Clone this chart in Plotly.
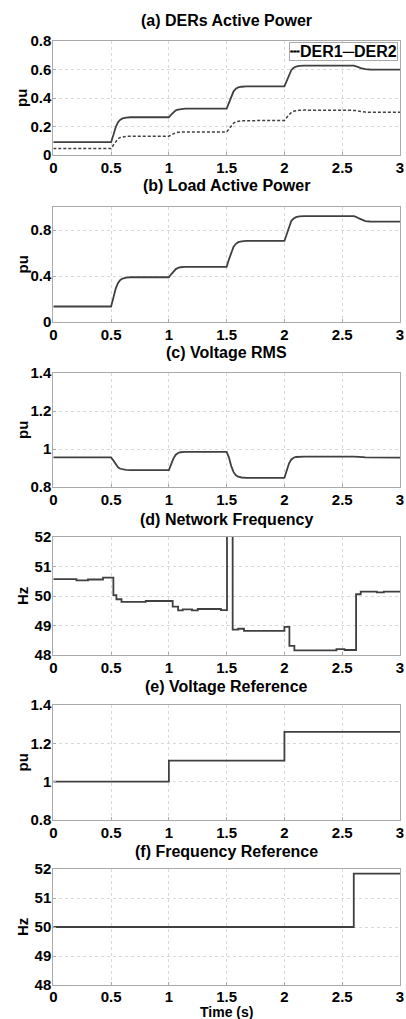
import plotly.graph_objects as go

# ---------------- data ----------------
t_smooth = [0, 0.5, 0.52, 0.54, 0.56, 0.58, 0.6, 0.63, 0.67,
            1.0, 1.02, 1.04, 1.06, 1.08, 1.1, 1.14,
            1.5, 1.52, 1.54, 1.56, 1.58, 1.6, 1.63, 1.67,
            2.0, 2.02, 2.04, 2.06, 2.08, 2.1, 2.13, 2.17,
            2.6, 2.62, 2.64, 2.66, 2.68, 2.7, 2.74, 3.0]

der1 = [0.045, 0.045, 0.07, 0.097, 0.114, 0.123, 0.128, 0.131, 0.132,
        0.132, 0.141, 0.150, 0.156, 0.159, 0.161, 0.162,
        0.162, 0.185, 0.208, 0.224, 0.233, 0.237, 0.240, 0.241,
        0.242, 0.263, 0.285, 0.299, 0.307, 0.311, 0.314, 0.315,
        0.315, 0.313, 0.309, 0.305, 0.302, 0.301, 0.300, 0.300]

der2 = [0.09, 0.09, 0.14, 0.195, 0.23, 0.248, 0.257, 0.263, 0.265,
        0.265, 0.283, 0.300, 0.313, 0.319, 0.322, 0.325,
        0.325, 0.370, 0.415, 0.447, 0.465, 0.474, 0.479, 0.481,
        0.482, 0.525, 0.568, 0.597, 0.612, 0.620, 0.625, 0.627,
        0.627, 0.624, 0.617, 0.610, 0.605, 0.602, 0.600, 0.599]

load = [0.135, 0.135, 0.21, 0.29, 0.34, 0.365, 0.378, 0.386, 0.389,
        0.389, 0.415, 0.44, 0.46, 0.47, 0.476, 0.48,
        0.48, 0.545, 0.61, 0.655, 0.68, 0.694, 0.702, 0.705,
        0.705, 0.77, 0.835, 0.88, 0.90, 0.912, 0.918, 0.92,
        0.92, 0.915, 0.903, 0.892, 0.883, 0.877, 0.874, 0.872]

vrms = [0.956, 0.956, 0.94, 0.918, 0.904, 0.896, 0.892, 0.890, 0.889,
        0.889, 0.92, 0.951, 0.97, 0.979, 0.983, 0.985,
        0.985, 0.955, 0.91, 0.878, 0.862, 0.854, 0.850, 0.848,
        0.848, 0.885, 0.925, 0.945, 0.954, 0.958, 0.960, 0.960,
        0.960, 0.960, 0.959, 0.958, 0.957, 0.956, 0.956, 0.955]

t_freq = [0, 0.2, 0.3, 0.43, 0.52, 0.546, 0.59, 0.8, 1.033, 1.08, 1.12, 1.2,
          1.25, 1.45, 1.503, 1.552, 1.6, 1.65, 2.0, 2.043, 2.086, 2.45, 2.52,
          2.62, 2.66, 2.8, 2.86, 3.0]
freq = [50.57, 50.53, 50.56, 50.62, 50.03, 49.89, 49.80, 49.83, 49.64, 49.51,
        49.55, 49.51, 49.56, 49.52, 53.5, 48.86, 48.89, 48.82, 48.95, 48.31,
        48.16, 48.20, 48.17, 50.06, 50.15, 50.12, 50.15, 50.15]

t_vref = [0, 1, 2, 3]
vref = [1.0, 1.11, 1.26, 1.26]

t_fref = [0, 2.6, 3]
fref = [50.0, 51.84, 51.84]

x_ticks = [0, 0.5, 1, 1.5, 2, 2.5, 3]
x_ticklabels = ["0", "0.5", "1", "1.5", "2", "2.5", "3"]

titles = ["(a) DERs Active Power", "(b) Load Active Power", "(c) Voltage RMS",
          "(d) Network Frequency", "(e) Voltage Reference", "(f) Frequency Reference"]
y_titles = ["pu", "pu", "pu", "Hz", "pu", "Hz"]
x_title = "Time (s)"
y_ranges = [[0, 0.8], [0, 1.0], [0.8, 1.4], [48, 52], [0.8, 1.4], [48, 52]]
y_tickvals = [[0, 0.2, 0.4, 0.6, 0.8], [0, 0.4, 0.8], [0.8, 1.0, 1.2, 1.4],
              [48, 49, 50, 51, 52], [0.8, 1.0, 1.2, 1.4], [48, 49, 50, 51, 52]]
y_ticktext = [["0", "0.2", "0.4", "0.6", "0.8"], ["0", "0.4", "0.8"],
              ["0.8", "1", "1.2", "1.4"], ["48", "49", "50", "51", "52"],
              ["0.8", "1", "1.2", "1.4"], ["48", "49", "50", "51", "52"]]
legend_names = ["DER1", "DER2"]

# ---------------- layout geometry ----------------
W, H = 406, 1019
panel_px = [(41, 155), (207, 322), (373, 487), (537, 655), (705, 820), (869, 985)]
title_px = [21, 186, 353, 519, 686, 851]
x_dom = [53.3 / W, 400 / W]

FONT = "Liberation Sans, Arial, sans-serif"
FS_TICK = 15
FS_TITLE = 16
LINE = "#404040"
BOX = "#aaaaaa"
GRID = "#d9d9d9"

def bold(size=FS_TICK):
    return dict(family=FONT, size=size, color="black", weight="bold")

fig = go.Figure()

fig.add_trace(go.Scatter(x=t_smooth, y=der1, mode="lines", name=legend_names[0],
                         line=dict(color=LINE, width=1.5, dash="3px,2px"),
                         showlegend=False, xaxis="x", yaxis="y"))
fig.add_trace(go.Scatter(x=t_smooth, y=der2, mode="lines", name=legend_names[1],
                         line=dict(color=LINE, width=1.8),
                         showlegend=False, xaxis="x", yaxis="y"))
fig.add_trace(go.Scatter(x=t_smooth, y=load, mode="lines", showlegend=False, name="Load",
                         line=dict(color=LINE, width=1.8), xaxis="x2", yaxis="y2"))
fig.add_trace(go.Scatter(x=t_smooth, y=vrms, mode="lines", showlegend=False, name="Vrms",
                         line=dict(color=LINE, width=1.8), xaxis="x3", yaxis="y3"))
fig.add_trace(go.Scatter(x=t_freq, y=freq, mode="lines", showlegend=False, name="f",
                         line=dict(color=LINE, width=1.8, shape="hv"), xaxis="x4", yaxis="y4"))
fig.add_trace(go.Scatter(x=t_vref, y=vref, mode="lines", showlegend=False, name="Vref",
                         line=dict(color=LINE, width=1.8, shape="hv"), xaxis="x5", yaxis="y5"))
fig.add_trace(go.Scatter(x=t_fref, y=fref, mode="lines", showlegend=False, name="fref",
                         line=dict(color=LINE, width=1.8, shape="hv"), xaxis="x6", yaxis="y6"))

layout = dict(
    width=W, height=H,
    margin=dict(l=0, r=0, t=0, b=0),
    paper_bgcolor="white", plot_bgcolor="white",
    font=bold(),
    showlegend=False,
    annotations=[],
)

for i in range(6):
    suffix = "" if i == 0 else str(i + 1)
    top, bot = panel_px[i]
    layout["xaxis" + suffix] = dict(
        domain=x_dom, anchor="y" + suffix, range=[0, 3],
        tickvals=x_ticks, ticktext=x_ticklabels,
        showline=True, mirror=True, linecolor=BOX, linewidth=1,
        showgrid=True, gridcolor=GRID, griddash="dot", gridwidth=1,
        zeroline=False, ticks="inside", ticklen=3, tickcolor=BOX,
        automargin=False, tickfont=bold(),
        ticklabelstandoff=(-2 if i == 5 else -1),
    )
    layout["yaxis" + suffix] = dict(
        domain=[1 - bot / H, 1 - top / H], anchor="x" + suffix,
        range=y_ranges[i], tickvals=y_tickvals[i], ticktext=y_ticktext[i],
        showline=True, mirror=True, linecolor=BOX, linewidth=1,
        showgrid=True, gridcolor=GRID, griddash="dot", gridwidth=1,
        zeroline=False, ticks="inside", ticklen=3, tickcolor=BOX,
        automargin=False, tickfont=bold(), ticklabelstandoff=-2,
    )
    # panel title
    layout["annotations"].append(dict(
        text=titles[i], xref="paper", yref="paper",
        x=(x_dom[0] + x_dom[1]) / 2, y=1 - title_px[i] / H,
        xanchor="center", yanchor="middle", showarrow=False, font=bold(FS_TITLE)))
    # y-axis title
    layout["annotations"].append(dict(
        text=y_titles[i], xref="paper", yref="paper",
        x=22 / W, y=1 - (top + bot) / 2 / H, textangle=-90,
        xanchor="center", yanchor="middle", showarrow=False, font=bold()))

# legend box (panel a), styled like the original MATLAB legend
layout["annotations"].append(dict(
    text="┄" + legend_names[0] + "─" + legend_names[1],
    xref="paper", yref="paper", x=398 / W, y=1 - 42 / H,
    xanchor="right", yanchor="top", showarrow=False,
    bgcolor="white", bordercolor=BOX, borderwidth=1, borderpad=0,
    font=bold(16)))

# x-axis title under the last panel
layout["annotations"].append(dict(
    text=x_title, xref="paper", yref="paper",
    x=(x_dom[0] + x_dom[1]) / 2, y=-2 / H, xanchor="center", yanchor="bottom",
    showarrow=False, borderpad=0, font=bold(14)))

fig.update_layout(**layout)
fig.write_html("out.html")
